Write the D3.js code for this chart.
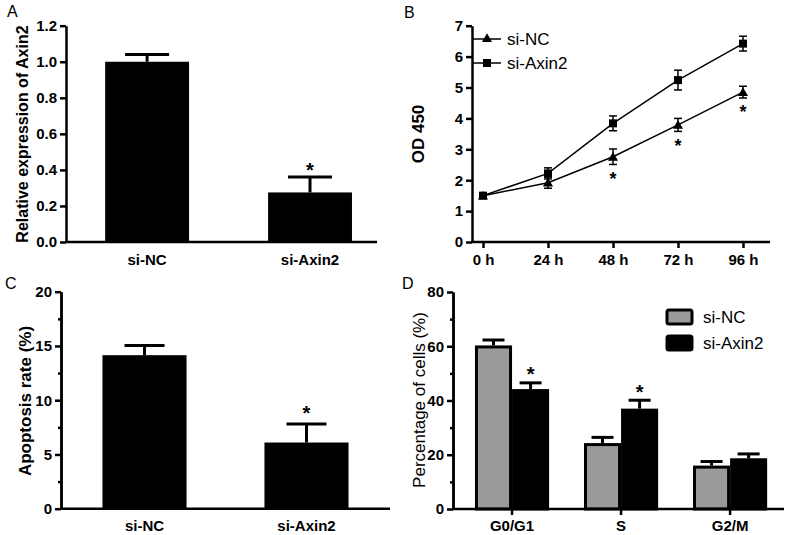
<!DOCTYPE html>
<html><head><meta charset="utf-8">
<script src="https://cdn.jsdelivr.net/npm/d3@7"></script>
<style>
body{margin:0;background:#fff;}
svg{display:block;font-family:"Liberation Sans",Arial,sans-serif;}
.axis path,.axis line{stroke:#000;stroke-width:2.5px;}
.axis text{font-weight:bold;font-size:15px;fill:#000;font-family:"Liberation Sans",Arial,sans-serif;}
</style></head><body>
<script>
// ---------- Data ----------
const aCategories = ["si-NC", "si-Axin2"];
const aValues = [1.00, 0.275];
const aErrors = [0.04, 0.085];
const aSignif = [false, true];
const aTicks = [0.0, 0.2, 0.4, 0.6, 0.8, 1.0, 1.2];

const bHours = ["0 h", "24 h", "48 h", "72 h", "96 h"];
const bNC = [1.50, 1.92, 2.76, 3.79, 4.85];
const bNCErr = [0.05, 0.18, 0.25, 0.21, 0.19];
const bAxin2 = [1.50, 2.22, 3.84, 5.24, 6.42];
const bAxin2Err = [0.05, 0.18, 0.24, 0.32, 0.24];
const bSignif = [false, false, true, true, true];
const bTicks = [0, 1, 2, 3, 4, 5, 6, 7];

const cCategories = ["si-NC", "si-Axin2"];
const cValues = [14.15, 6.1];
const cErrors = [0.9, 1.7];
const cSignif = [false, true];
const cTicks = [0, 5, 10, 15, 20];
const cMinorTicks = [2.5, 7.5, 12.5, 17.5];

const dPhases = ["G0/G1", "S", "G2/M"];
const dSeries = ["si-NC", "si-Axin2"];
const dNC = [60.3, 24.3, 16.0];
const dNCErr = [2.0, 2.1, 1.5];
const dAxin2 = [44.2, 37.0, 18.7];
const dAxin2Err = [2.3, 3.1, 1.6];
const dSignif = [true, true, false];
const dTicks = [0, 20, 40, 60, 80];
const dMinorTicks = [10, 30, 50, 70];

// ---------- Setup ----------
const W = 788, H = 535;
const svg = d3.select("body").append("svg").attr("width", W).attr("height", H);

function panelLabel(t, x, y) {
  svg.append("text").attr("x", x).attr("y", y).text(t)
    .attr("font-size", 16).attr("fill", "#000");
}
function yTitle(t, x, yc, size, weight) {
  svg.append("text").attr("transform", `translate(${x},${yc}) rotate(-90)`)
    .attr("text-anchor", "middle").attr("font-size", size).attr("font-weight", weight)
    .attr("fill", "#000").text(t);
}
function star(x, yc, size) {
  svg.append("text").attr("x", x).attr("y", yc + size * 0.58).attr("text-anchor", "middle")
    .attr("font-size", size).attr("font-weight", "bold").attr("fill", "#000").text("*");
}
function xDomainLine(g, x0, x1, y) {
  g.append("line").attr("x1", x0).attr("x2", x1).attr("y1", y).attr("y2", y)
    .attr("stroke", "#000").attr("stroke-width", 2.5);
}

// ---------- Panel A ----------
(function () {
  const x = d3.scaleBand().domain(aCategories).range([66, 377])
    .paddingInner(0.485).paddingOuter(0.197).align(0.61);
  const y = d3.scaleLinear().domain([0, 1.2]).range([242, 25.7]);
  const g = svg.append("g");
  g.selectAll("rect.bar").data(aCategories).enter().append("rect")
    .attr("x", d => x(d)).attr("width", x.bandwidth())
    .attr("y", (d, i) => y(aValues[i])).attr("height", (d, i) => y(0) - y(aValues[i]))
    .attr("fill", "#000");
  aCategories.forEach((c, i) => {
    const cx = x(c) + x.bandwidth() / 2, top = y(aValues[i] + aErrors[i]);
    g.append("line").attr("x1", cx).attr("x2", cx).attr("y1", y(aValues[i])).attr("y2", top)
      .attr("stroke", "#000").attr("stroke-width", 3);
    g.append("line").attr("x1", cx - 22).attr("x2", cx + 22).attr("y1", top).attr("y2", top)
      .attr("stroke", "#000").attr("stroke-width", 3);
    if (aSignif[i]) star(cx, top - 12, 20);
  });
  g.append("g").attr("class", "axis").attr("transform", "translate(66,0)")
    .call(d3.axisLeft(y).tickValues(aTicks).tickFormat(d3.format(".1f")).tickSize(6).tickSizeOuter(0).tickPadding(3));
  const xa = g.append("g").attr("class", "axis").attr("transform", "translate(0,242)")
    .call(d3.axisBottom(x).tickSize(0).tickPadding(12));
  xa.select(".domain").remove();
  xDomainLine(g, 65, 377, 242);
  yTitle("Relative expression of Axin2", 28, 134, 16, "bold");
  panelLabel("A", 7, 17);
})();

// ---------- Panel B ----------
(function () {
  const x = d3.scalePoint().domain(bHours).range([483, 743]);
  const y = d3.scaleLinear().domain([0, 7]).range([242, 25.7]);
  const g = svg.append("g");
  const line = d3.line().x((d, i) => x(bHours[i])).y(d => y(d));
  g.append("path").datum(bNC).attr("d", line).attr("fill", "none").attr("stroke", "#000").attr("stroke-width", 1.5);
  g.append("path").datum(bAxin2).attr("d", line).attr("fill", "none").attr("stroke", "#000").attr("stroke-width", 1.5);
  function errs(vals, errsArr) {
    vals.forEach((v, i) => {
      if (errsArr[i] < 0.1) return;
      const cx = x(bHours[i]), t = y(v + errsArr[i]), b = y(v - errsArr[i]);
      g.append("line").attr("x1", cx).attr("x2", cx).attr("y1", t).attr("y2", b).attr("stroke", "#000").attr("stroke-width", 1.5);
      [t, b].forEach(yy => g.append("line").attr("x1", cx - 4).attr("x2", cx + 4).attr("y1", yy).attr("y2", yy)
        .attr("stroke", "#000").attr("stroke-width", 1.5));
    });
  }
  errs(bNC, bNCErr);
  errs(bAxin2, bAxin2Err);
  const tri = d3.symbol().type(d3.symbolTriangle).size(44);
  const sq = d3.symbol().type(d3.symbolSquare).size(64);
  g.selectAll("path.sq").data(bAxin2).enter().append("path")
    .attr("transform", (d, i) => `translate(${x(bHours[i])},${y(d)})`).attr("d", sq).attr("fill", "#000");
  g.selectAll("path.tri").data(bNC).enter().append("path")
    .attr("transform", (d, i) => `translate(${x(bHours[i])},${y(d) + 1})`).attr("d", tri).attr("fill", "#000");
  bNC.forEach((v, i) => {
    if (bSignif[i]) star(x(bHours[i]), y(v - bNCErr[i]) + 10, 18);
  });
  g.append("g").attr("class", "axis").attr("transform", "translate(472,0)")
    .call(d3.axisLeft(y).tickValues(bTicks).tickFormat(d3.format("d")).tickSize(6).tickSizeOuter(0).tickPadding(3));
  const xa = g.append("g").attr("class", "axis").attr("transform", "translate(0,242)")
    .call(d3.axisBottom(x).tickSize(6).tickPadding(6));
  xa.select(".domain").remove();
  xDomainLine(g, 471, 770, 242);
  yTitle("OD 450", 424, 134, 17, "bold");
  // legend
  const leg = [{ name: "si-NC", sym: tri, y: 39 }, { name: "si-Axin2", sym: sq, y: 63 }];
  leg.forEach(l => {
    g.append("line").attr("x1", 473).attr("x2", 501).attr("y1", l.y).attr("y2", l.y).attr("stroke", "#000").attr("stroke-width", 1.5);
    g.append("path").attr("transform", `translate(487,${l.y})`).attr("d", l.sym).attr("fill", "#000");
    g.append("text").attr("x", 507).attr("y", l.y + 6).attr("font-size", 17).attr("fill", "#000").text(l.name);
  });
  panelLabel("B", 404, 18);
})();

// ---------- Panel C ----------
(function () {
  const x = d3.scaleBand().domain(cCategories).range([61, 390])
    .paddingInner(0.481).paddingOuter(0.256).align(0.5);
  const y = d3.scaleLinear().domain([0, 20]).range([508.7, 291.7]);
  const g = svg.append("g");
  g.selectAll("rect.bar").data(cCategories).enter().append("rect")
    .attr("x", d => x(d)).attr("width", x.bandwidth())
    .attr("y", (d, i) => y(cValues[i])).attr("height", (d, i) => y(0) - y(cValues[i]))
    .attr("fill", "#000");
  cCategories.forEach((c, i) => {
    const cx = x(c) + x.bandwidth() / 2, top = y(cValues[i] + cErrors[i]);
    g.append("line").attr("x1", cx).attr("x2", cx).attr("y1", y(cValues[i])).attr("y2", top)
      .attr("stroke", "#000").attr("stroke-width", 3);
    g.append("line").attr("x1", cx - 20).attr("x2", cx + 20).attr("y1", top).attr("y2", top)
      .attr("stroke", "#000").attr("stroke-width", 3);
    if (cSignif[i]) star(cx, top - 16, 20);
  });
  g.append("g").attr("class", "axis").attr("transform", "translate(61,0)")
    .call(d3.axisLeft(y).tickValues(cMinorTicks).tickFormat("").tickSize(3).tickSizeOuter(0));
  g.append("g").attr("class", "axis").attr("transform", "translate(61,0)")
    .call(d3.axisLeft(y).tickValues(cTicks).tickFormat(d3.format("d")).tickSize(6).tickSizeOuter(0).tickPadding(3));
  const xa = g.append("g").attr("class", "axis").attr("transform", "translate(0,508.7)")
    .call(d3.axisBottom(x).tickSize(0).tickPadding(12));
  xa.select(".domain").remove();
  xDomainLine(g, 60, 390, 508.7);
  yTitle("Apoptosis rate (%)", 31, 401, 17, "bold");
  panelLabel("C", 5, 289);
})();

// ---------- Panel D ----------
(function () {
  const x0 = d3.scaleBand().domain(dPhases).range([453, 784])
    .paddingInner(0.32).paddingOuter(0.178).align(0.566);
  const x1 = d3.scaleBand().domain(dSeries).range([0, x0.bandwidth()]);
  const y = d3.scaleLinear().domain([0, 80]).range([509, 292]);
  const g = svg.append("g");
  const series = [
    { name: "si-NC", vals: dNC, errs: dNCErr, fill: "#9a9a9a" },
    { name: "si-Axin2", vals: dAxin2, errs: dAxin2Err, fill: "#000" }
  ];
  series.forEach((s, si) => {
    dPhases.forEach((p, i) => {
      const bx = x0(p) + x1(s.name), bw = x1.bandwidth();
      const cx = bx + bw / 2, top = y(s.vals[i] + s.errs[i]);
      g.append("line").attr("x1", cx).attr("x2", cx).attr("y1", y(s.vals[i])).attr("y2", top)
        .attr("stroke", "#000").attr("stroke-width", 3);
      g.append("line").attr("x1", cx - 11).attr("x2", cx + 11).attr("y1", top).attr("y2", top)
        .attr("stroke", "#000").attr("stroke-width", 3);
      g.append("rect").attr("x", bx + 1.5).attr("width", bw - 3)
        .attr("y", y(s.vals[i]) + 1.5).attr("height", y(0) - y(s.vals[i]) - 1.5)
        .attr("fill", s.fill).attr("stroke", "#000").attr("stroke-width", 3);
      if (si === 1 && dSignif[i]) star(cx, top - 13, 20);
    });
  });
  g.append("g").attr("class", "axis").attr("transform", "translate(453,0)")
    .call(d3.axisLeft(y).tickValues(dMinorTicks).tickFormat("").tickSize(3).tickSizeOuter(0));
  g.append("g").attr("class", "axis").attr("transform", "translate(453,0)")
    .call(d3.axisLeft(y).tickValues(dTicks).tickFormat(d3.format("d")).tickSize(6).tickSizeOuter(0).tickPadding(3));
  const xa = g.append("g").attr("class", "axis").attr("transform", "translate(0,509)")
    .call(d3.axisBottom(x0).tickSize(6).tickPadding(5));
  xa.select(".domain").remove();
  xDomainLine(g, 452, 784, 509);
  yTitle("Percentage of cells (%)", 425, 400, 17, "normal");
  // legend
  series.forEach((s, i) => {
    const ly = 310 + i * 26;
    g.append("rect").attr("x", 667).attr("y", ly).attr("width", 25).attr("height", 14)
      .attr("rx", 2).attr("fill", s.fill).attr("stroke", "#000").attr("stroke-width", 3);
    g.append("text").attr("x", 703).attr("y", ly + 13).attr("font-size", 17).attr("fill", "#000").text(s.name);
  });
  panelLabel("D", 402, 289);
})();
</script>
</body></html>
